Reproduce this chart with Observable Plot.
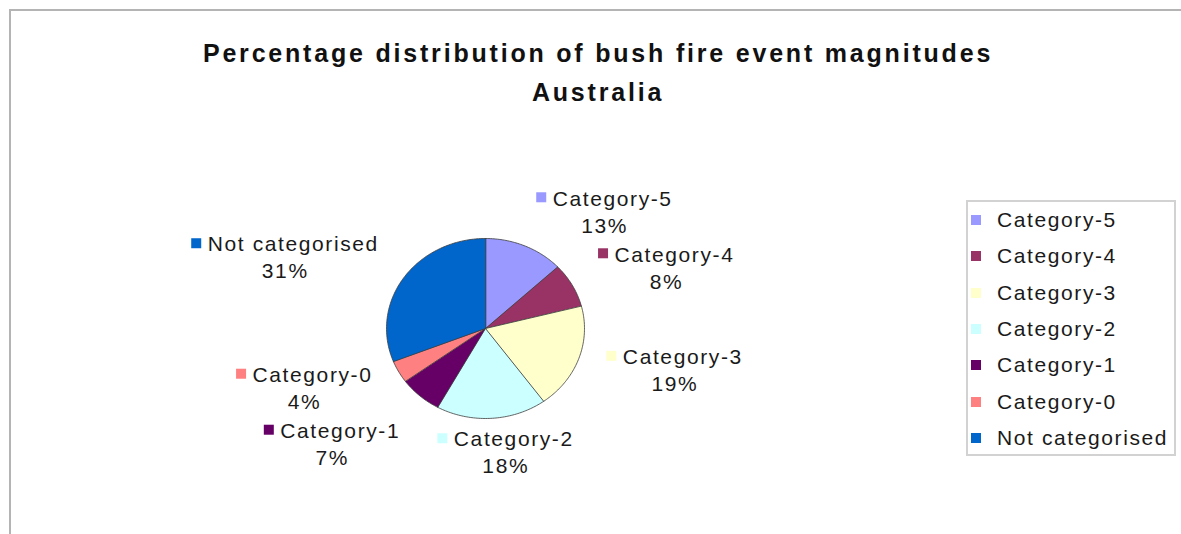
<!DOCTYPE html>
<html><head><meta charset="utf-8">
<script src="https://cdn.jsdelivr.net/npm/d3@7"></script>
<script src="https://cdn.jsdelivr.net/npm/@observablehq/plot@0.6"></script>
<style>
body{margin:0;background:#fff;}
#wrap{position:relative;width:1181px;height:534px;overflow:hidden;background:#fff;}
#frame{position:absolute;left:9px;top:9px;width:1300px;height:700px;border:2px solid #b4b4b4;box-sizing:border-box;}
#chart{position:absolute;left:0;top:0;}
#chart g[font-weight="bold"] text{letter-spacing:2.8px;}
#chart g[font-size="21"] text{letter-spacing:1.6px;}
#legend{position:absolute;left:966px;top:200px;width:210px;height:256px;border:2px solid #d2d2d2;box-sizing:border-box;background:#fff;padding:0 0 0 3px;}
#legend .lg-swatches{font-family:"Liberation Sans",Arial,sans-serif;font-size:21px;letter-spacing:1.6px;color:#1a1a1a;margin:0;}
#legend .lg-swatch{height:36.3px;display:flex;align-items:center;padding:0;}
#legend .lg-swatch > svg{margin-right:16px;}
#legend .lg-swatch-label{overflow:visible;text-overflow:clip;white-space:nowrap;}
</style></head>
<body><div id="wrap"><div id="frame"></div><div id="chart"></div><div id="legend"></div></div>
<script>
// ---- data ----
const categories = ["Category-5","Category-4","Category-3","Category-2","Category-1","Category-0","Not categorised"];
const percentages = [13, 8, 19, 18, 7, 4, 31];
const colors = ["#9999FF","#993366","#FFFFCC","#CCFFFF","#660066","#FF8080","#0066CC"];
const titleLines = ["Percentage distribution of bush fire event magnitudes", "Australia"];

// ---- layout ----
const cx = 485, cy = 328, rx = 99, ry = 90;
const fontPx = 21, ls = 1.6, swatch = 10, gap = 6, blockH = 46;

const total = d3.sum(percentages);
let acc = 0;
const slices = categories.map((c, i) => {
  const a0 = acc / total * 2 * Math.PI; acc += percentages[i];
  const a1 = acc / total * 2 * Math.PI;
  return {cat: c, value: percentages[i], a0, a1, mid: (a0 + a1) / 2};
});

// slice polygons in unit coordinates (angle clockwise from 12 o'clock)
const piePts = [];
for (const s of slices) {
  piePts.push({cat: s.cat, x: 0, y: 0});
  const n = Math.max(2, Math.ceil((s.a1 - s.a0) / (Math.PI / 180)));
  for (let k = 0; k <= n; k++) {
    const a = s.a0 + (s.a1 - s.a0) * k / n;
    piePts.push({cat: s.cat, x: Math.sin(a), y: Math.cos(a)});
  }
}

// label placement (outside the pie, box edge facing the slice)
const ctx = document.createElement("canvas").getContext("2d");
ctx.font = `${fontPx}px "Liberation Sans", Arial`;
const tw = t => ctx.measureText(t).width + ls * t.length;
const labels = slices.map(s => {
  const w = swatch + gap + tw(s.cat);
  const sn = Math.sin(s.mid), cs = Math.cos(s.mid);
  const blend = Math.min(1, Math.abs(sn) / 0.35);
  return {...s, w, cs,
    px: cx + sn * (rx + 30) + Math.sign(sn) * blend * w / 2,
    py: cy - cs * (ry + 12 + blockH / 2)};
});
for (let it = 0; it < 60; it++) {
  for (let i = 0; i < labels.length; i++) for (let j = i + 1; j < labels.length; j++) {
    const A = labels[i], B = labels[j];
    const dx = B.px - A.px, dy = B.py - A.py;
    const need = blockH + 10;
    if (Math.abs(dx) < (A.w + B.w) / 2 + 4 && Math.abs(dy) < need) {
      const ov = need - Math.abs(dy), sg = dy >= 0 ? 1 : -1;
      // move the label that points more vertically
      if (Math.abs(A.cs) > Math.abs(B.cs)) A.py -= sg * ov; else B.py += sg * ov;
    }
  }
}
const ux = p => (p - cx) / rx, uy = p => (cy - p) / ry;
const labelData = labels.map(l => {
  const left = l.px - l.w / 2, nameY = l.py - 13.5;
  return {cat: l.cat, value: l.value,
    nx: ux(left + swatch + gap), ny: uy(nameY),
    mx1: ux(left), mx2: ux(left + swatch), my1: uy(nameY - 6), my2: uy(nameY + 4),
    vx: ux(l.px), vy: uy(l.py + 13.5)};
});

const chart = Plot.plot({
  width: 1181, height: 534, margin: 0,
  x: {domain: [-1, 1], range: [cx - rx, cx + rx], axis: null},
  y: {domain: [-1, 1], range: [cy + ry, cy - ry], axis: null},
  color: {domain: categories, range: colors},
  style: {background: "transparent", fontFamily: "'Liberation Sans', Arial, sans-serif", overflow: "visible"},
  marks: [
    Plot.line(piePts, {x: "x", y: "y", z: "cat", fill: "cat", stroke: "#3c3c3c", strokeWidth: 0.8, curve: "linear-closed"}),
    Plot.rect(labelData, {x1: "mx1", x2: "mx2", y1: "my1", y2: "my2", fill: "cat"}),
    Plot.text(labelData, {x: "nx", y: "ny", text: "cat", textAnchor: "start", fontSize: 21, fill: "#1a1a1a"}),
    Plot.text(labelData, {x: "vx", y: "vy", text: d => d.value + "%", fontSize: 21, fill: "#1a1a1a"}),
    Plot.text([titleLines.join("\n")], {frameAnchor: "top", dx: 7, dy: 34, fontWeight: "bold", fontSize: 25, lineHeight: 1.56, fill: "#111"})
  ]
});
document.getElementById("chart").appendChild(chart);

const legend = Plot.legend({
  color: {domain: categories, range: colors},
  legend: "swatches", columns: 1, swatchSize: 10, className: "lg"
});
document.getElementById("legend").appendChild(legend);
</script>
</body></html>
